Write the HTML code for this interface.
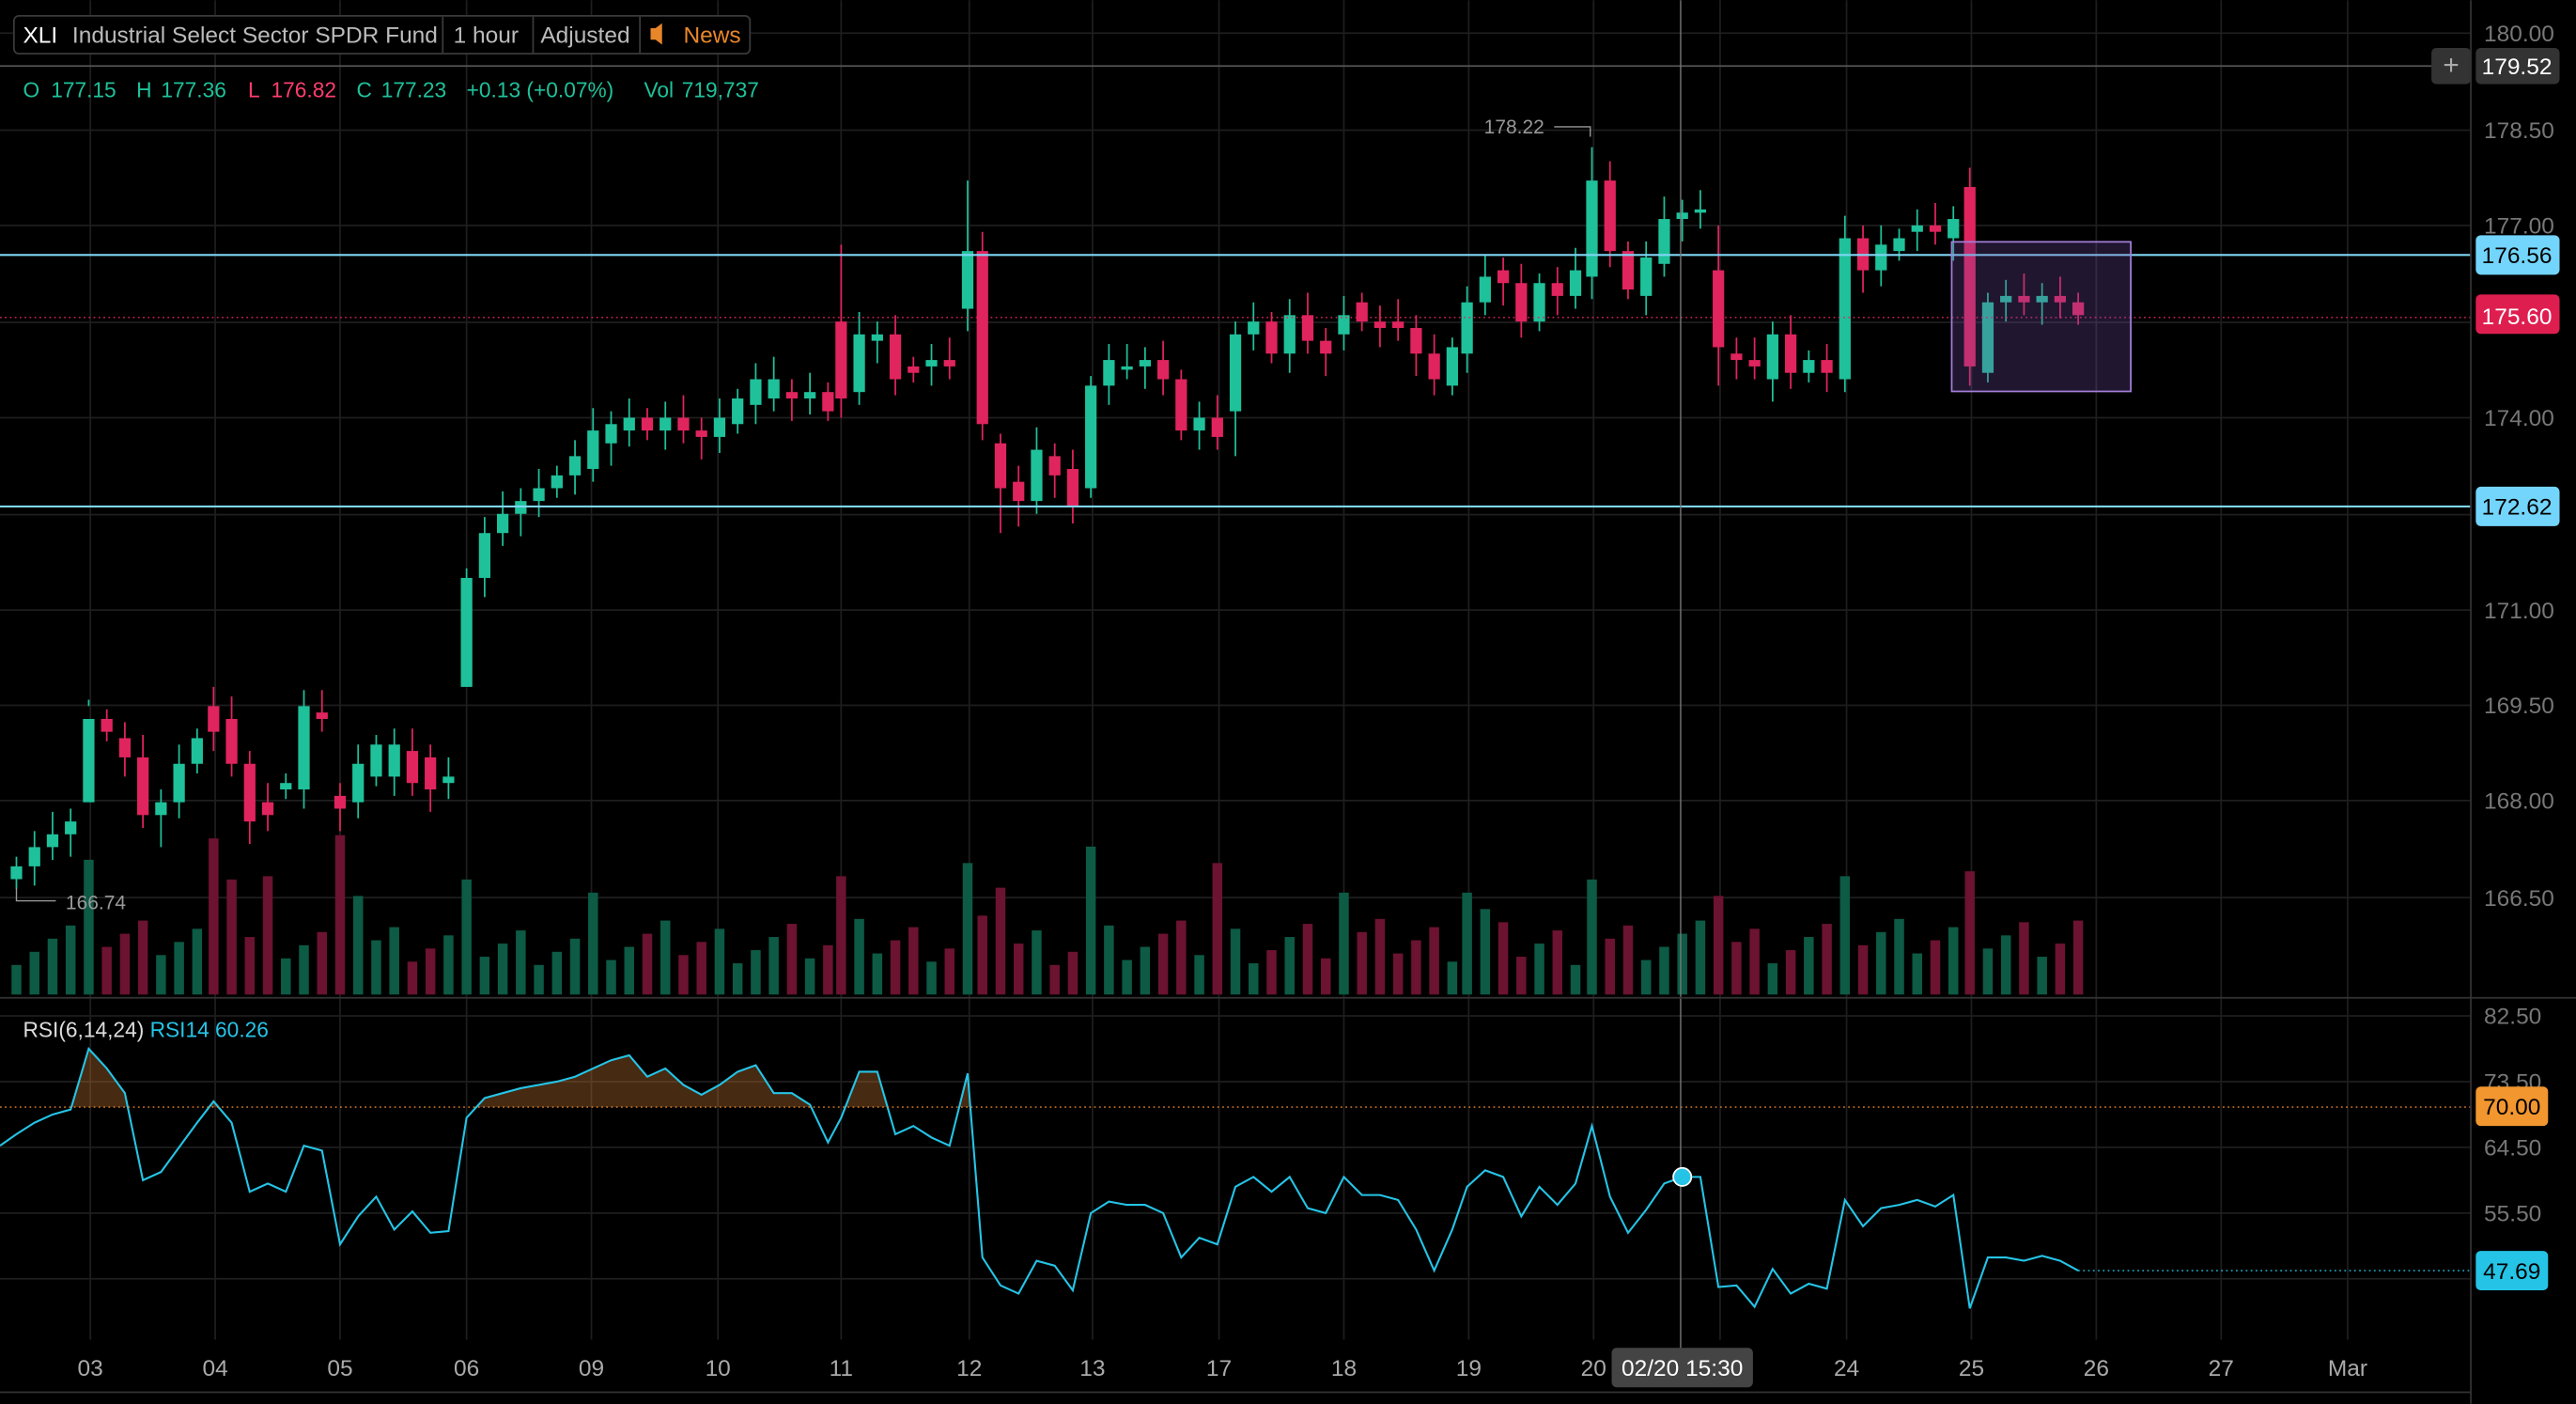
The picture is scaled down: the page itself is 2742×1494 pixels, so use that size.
<!DOCTYPE html>
<html><head><meta charset="utf-8"><style>
html,body{margin:0;padding:0;background:#000;overflow:hidden}
svg{display:block}
text{font-family:"Liberation Sans",sans-serif}
</style></head><body>
<svg id="s" width="2742" height="1494" viewBox="0 0 1568 854" xmlns="http://www.w3.org/2000/svg">
<rect width="1568" height="854" fill="#000"/>
<g id="grid" stroke="#1e1e1e" stroke-width="1"></g>
<g id="vol"></g>
<g id="cand"></g>
<g id="rsi"></g>
<line x1="0" y1="40" x2="1480" y2="40" stroke="#555" stroke-width="1"/>
<line x1="0" y1="155" x2="1504" y2="155" stroke="#7fd6f5" stroke-width="1.2"/>
<line x1="0" y1="308" x2="1504" y2="308" stroke="#7fd6f5" stroke-width="1.2"/>
<line x1="0" y1="193" x2="1504" y2="193" stroke="#e0245e" stroke-width="0.8" stroke-dasharray="1,2"/>
<line x1="0" y1="673.5" x2="1504" y2="673.5" stroke="#e8862a" stroke-width="0.8" stroke-dasharray="1,2"/>
<line x1="1265" y1="773" x2="1504" y2="773" stroke="#25c4e6" stroke-width="0.8" stroke-dasharray="1,2"/>
<rect x="1188" y="147" width="109" height="91" fill="rgba(120,80,170,0.28)" stroke="#a27fd8" stroke-width="1"/>
<line x1="1023" y1="0" x2="1023" y2="820" stroke="#777" stroke-width="0.8"/>
<line x1="1504" y1="0" x2="1504" y2="854" stroke="#333"/>
<line x1="0" y1="607" x2="1568" y2="607" stroke="#333"/>
<line x1="0" y1="847" x2="1504" y2="847" stroke="#333"/>
<polyline points="946,77 968,77 968,83" fill="none" stroke="#999" stroke-width="0.8"/>
<text x="940" y="81" font-size="12" fill="#999" text-anchor="end">178.22</text>
<polyline points="10,540 10,548 34,548" fill="none" stroke="#999" stroke-width="0.8"/>
<text x="40" y="553" font-size="12" fill="#999">166.74</text>
<rect x="8.5" y="9.5" width="448" height="23" rx="3" fill="#000" stroke="#3a3a3a"/>
<line x1="269.5" y1="10" x2="269.5" y2="32" stroke="#3a3a3a"/>
<line x1="324.5" y1="10" x2="324.5" y2="32" stroke="#3a3a3a"/>
<line x1="389.5" y1="10" x2="389.5" y2="32" stroke="#3a3a3a"/>
<text x="14" y="26" font-size="14" fill="#fff">XLI</text>
<text x="44" y="26" font-size="14" fill="#bbb">Industrial Select Sector SPDR Fund</text>
<text x="276" y="26" font-size="14" fill="#bbb">1 hour</text>
<text x="329" y="26" font-size="14" fill="#bbb">Adjusted</text>
<path d="M396 17h3l4-3v13l-4-3h-3z" fill="#e8862a"/>
<text x="416" y="26" font-size="14" fill="#e8862a">News</text>
<g font-size="13" fill="#1fc19a">
<text x="14" y="59">O</text><text x="31" y="59">177.15</text>
<text x="83" y="59">H</text><text x="98" y="59">177.36</text>
<text x="151" y="59" fill="#ff3d6e">L</text><text x="165" y="59" fill="#ff3d6e">176.82</text>
<text x="217" y="59">C</text><text x="232" y="59">177.23</text>
<text x="284" y="59">+0.13 (+0.07%)</text>
<text x="392" y="59">Vol</text><text x="415" y="59">719,737</text>
</g>
<text x="14" y="631" font-size="13" fill="#ddd">RSI(6,14,24) <tspan fill="#25c4e6">RSI14 60.26</tspan></text>
<g font-size="14" fill="#777" text-anchor="start">
<text x="1512" y="25">180.00</text><text x="1512" y="84">178.50</text><text x="1512" y="142">177.00</text>
<text x="1512" y="259">174.00</text><text x="1512" y="376">171.00</text><text x="1512" y="434">169.50</text>
<text x="1512" y="492">168.00</text><text x="1512" y="551">166.50</text>
<text x="1512" y="623">82.50</text><text x="1512" y="663">73.50</text><text x="1512" y="703">64.50</text><text x="1512" y="743">55.50</text>
</g>
<rect x="1480" y="29" width="24" height="22" rx="3" fill="#333"/>
<text x="1492" y="45" font-size="17" fill="#aaa" text-anchor="middle">+</text>
<rect x="1507" y="29" width="51" height="22" rx="3" fill="#333"/><text x="1532" y="45" font-size="14" fill="#fff" text-anchor="middle">179.52</text>
<rect x="1507" y="143" width="51" height="24" rx="3" fill="#73d5fb"/><text x="1532" y="160" font-size="14" fill="#000" text-anchor="middle">176.56</text>
<rect x="1507" y="179" width="51" height="24" rx="3" fill="#df1e50"/><text x="1532" y="197" font-size="14" fill="#fff" text-anchor="middle">175.60</text>
<rect x="1507" y="296" width="51" height="24" rx="3" fill="#73d5fb"/><text x="1532" y="313" font-size="14" fill="#000" text-anchor="middle">172.62</text>
<rect x="1507" y="661" width="44" height="24" rx="3" fill="#f2962f"/><text x="1529" y="678" font-size="14" fill="#000" text-anchor="middle">70.00</text>
<rect x="1507" y="761" width="44" height="24" rx="3" fill="#25c4e6"/><text x="1529" y="778" font-size="14" fill="#000" text-anchor="middle">47.69</text>
<g font-size="14" fill="#aaa" text-anchor="middle">
<text x="55" y="837">03</text><text x="131" y="837">04</text><text x="207" y="837">05</text><text x="284" y="837">06</text>
<text x="360" y="837">09</text><text x="437" y="837">10</text><text x="512" y="837">11</text><text x="590" y="837">12</text>
<text x="665" y="837">13</text><text x="742" y="837">17</text><text x="818" y="837">18</text><text x="894" y="837">19</text>
<text x="970" y="837">20</text><text x="1124" y="837">24</text><text x="1200" y="837">25</text><text x="1276" y="837">26</text>
<text x="1352" y="837">27</text><text x="1429" y="837">Mar</text>
</g>
<rect x="981" y="820" width="86" height="24" rx="3" fill="#444"/>
<text x="1024" y="837" font-size="14" fill="#fff" text-anchor="middle">02/20 15:30</text>
<circle cx="1024" cy="716" r="5.5" fill="#25c4e6" stroke="#fff" stroke-width="1"/>
</svg>
<script>
var NS="http://www.w3.org/2000/svg";
function el(p,t,a){var e=document.createElementNS(NS,t);for(var k in a)e.setAttribute(k,a[k]);document.getElementById(p).appendChild(e);return e;}
var days=[55,131,207,284,360,437,512,590,665,742,818,894,970,1047,1124,1200,1276,1352,1429];
days.forEach(function(x){el("grid","line",{x1:x,y1:0,x2:x,y2:815});});
[20,79,137,196,254,313,371,429,487,546].forEach(function(y){el("grid","line",{x1:0,y1:y,x2:1504,y2:y});});
[618,658,698,738,778].forEach(function(y){el("grid","line",{x1:0,y1:y,x2:1504,y2:y});});
function py(p){return 20+(180-p)*39;}
var C=[[10,166.8,167.0],[21,167.0,167.3],[32,167.3,167.5],[43,167.5,167.7],[54,168.0,169.3],[65,169.3,169.1],[76,169.0,168.7],[87,168.7,167.8],[98,167.8,168.0],[109,168.0,168.6],[120,168.6,169.0],[130,169.5,169.1],[141,169.3,168.6],[152,168.6,167.7],[163,168.0,167.8],[174,168.2,168.3],[185,168.2,169.5],[196,169.4,169.3],[207,168.1,167.9],[218,168.0,168.6],[229,168.4,168.9],[240,168.4,168.9],[251,168.8,168.3],[262,168.7,168.2],[273,168.3,168.4],[284,169.8,171.5],[295,171.5,172.2],[306,172.2,172.5],[317,172.5,172.7],[328,172.7,172.9],[339,172.9,173.1],[350,173.1,173.4],[361,173.2,173.8],[372,173.6,173.9],[383,173.8,174.0],[394,174.0,173.8],[405,173.8,174.0],[416,174.0,173.8],[427,173.8,173.7],[438,173.7,174.0],[449,173.9,174.3],[460,174.2,174.6],[471,174.3,174.6],[482,174.4,174.3],[493,174.3,174.4],[504,174.4,174.1],[512,175.5,174.3],[523,174.4,175.3],[534,175.2,175.3],[545,175.3,174.6],[556,174.8,174.7],[567,174.8,174.9],[578,174.9,174.8],[589,175.7,176.6],[598,176.6,173.9],[609,173.6,172.9],[620,173.0,172.7],[631,172.7,173.5],[642,173.4,173.1],[653,173.2,172.6],[664,172.9,174.5],[675,174.5,174.9],[686,174.8,174.8],[697,174.8,174.9],[708,174.9,174.6],[719,174.6,173.8],[730,173.8,174.0],[741,174.0,173.7],[752,174.1,175.3],[763,175.3,175.5],[774,175.5,175.0],[785,175.0,175.6],[796,175.6,175.2],[807,175.2,175.0],[818,175.3,175.6],[829,175.8,175.5],[840,175.5,175.4],[851,175.5,175.4],[862,175.4,175.0],[873,175.0,174.6],[884,174.5,175.1],[893,175.0,175.8],[904,175.8,176.2],[915,176.3,176.1],[926,176.1,175.5],[937,175.5,176.1],[948,176.1,175.9],[959,175.9,176.3],[969,176.2,177.7],[980,177.7,176.6],[991,176.6,176.0],[1002,175.9,176.5],[1013,176.4,177.1],[1024,177.1,177.2],[1035,177.2,177.25],[1046,176.3,175.1],[1057,175.0,174.9],[1068,174.9,174.8],[1079,174.6,175.3],[1090,175.3,174.7],[1101,174.7,174.9],[1112,174.9,174.7],[1123,174.6,176.8],[1134,176.8,176.3],[1145,176.3,176.7],[1156,176.6,176.8],[1167,176.9,177.0],[1178,177.0,176.9],[1189,176.8,177.1],[1199,177.6,174.8],[1210,174.7,175.8],[1221,175.8,175.9],[1232,175.9,175.8],[1243,175.8,175.9],[1254,175.9,175.8],[1265,175.8,175.6]];
var wick={54:[0,169.5],130:[169.8,0],512:[176.7,0],589:[177.7,0],609:[0,172.2],620:[0,172.3],969:[178.22,0],1046:[177.0,174.5],1123:[0,174.4],1199:[0,174.5],284:[0,169.8],752:[0,173.4],98:[0,167.3]};
var tall={54:82,130:95,141:70,163:72,207:97,218:60,284:70,361:62,512:72,589:80,598:48,609:65,664:90,741:80,818:62,893:62,904:52,969:70,1046:60,1123:72,1199:75,1265:45};
C.forEach(function(c,i){var x=c[0],o=c[1],cl=c[2];var up=cl>=o;
 var col=up?"#1fc19a":"#e0245e";var hi=Math.max(o,cl)+0.15+((i*7)%5)*0.05,lo=Math.min(o,cl)-0.15-((i*3)%5)*0.05;
 if(wick[x]){if(wick[x][0])hi=wick[x][0];if(wick[x][1])lo=wick[x][1];}
 el("cand","line",{x1:x,y1:py(hi),x2:x,y2:py(lo),stroke:col,"stroke-width":1});
 var t=py(Math.max(o,cl)),b=py(Math.min(o,cl));if(b-t<2){b=t+2;}
 el("cand","rect",{x:x-3.5,y:t,width:7,height:b-t,fill:col});
 var h=tall[x]||(18+((i*37)%29));
 el("vol","rect",{x:x-3,y:605-h,width:6,height:h,fill:up?"#0d5a45":"#6b1330"});
});
var R=[[0,697],[10,690],[21,683],[32,678],[43,675],[54,638],[65,650],[76,665],[87,718],[98,713],[109,698],[120,683],[130,670],[141,683],[152,725],[163,720],[174,725],[185,697],[196,700],[207,757],[218,740],[229,728],[240,748],[251,737],[262,750],[273,749],[284,680],[295,668],[306,665],[317,662],[328,660],[339,658],[350,655],[361,650],[372,645],[383,642],[394,655],[405,650],[416,660],[427,666],[438,660],[449,652],[460,648],[471,665],[482,665],[493,672],[504,695],[512,680],[523,652],[534,652],[545,690],[556,685],[567,692],[578,697],[589,653],[598,765],[609,782],[620,787],[631,767],[642,770],[653,785],[664,738],[675,731],[686,733],[697,733],[708,738],[719,765],[730,753],[741,757],[752,722],[763,716],[774,725],[785,716],[796,735],[807,738],[818,716],[829,727],[840,727],[851,730],[862,748],[873,773],[884,748],[893,722],[904,712],[915,716],[926,740],[937,722],[948,733],[959,720],[969,685],[980,728],[991,750],[1002,736],[1013,720],[1024,716],[1035,716],[1046,783],[1057,782],[1068,795],[1079,772],[1090,787],[1101,781],[1112,784],[1123,730],[1134,746],[1145,735],[1156,733],[1167,730],[1178,734],[1189,727],[1199,796],[1210,765],[1221,765],[1232,767],[1243,764],[1254,767],[1265,773]];
var L=673.5;
var d="";for(var i=0;i<R.length-1;i++){var a=R[i],b=R[i+1];var ya=Math.min(a[1],L),yb=Math.min(b[1],L);
 if(a[1]<L||b[1]<L){var x0=a[0],x1=b[0];
  if(a[1]>=L){x0=a[0]+(b[0]-a[0])*(a[1]-L)/(a[1]-b[1]);ya=L;}
  if(b[1]>=L){x1=a[0]+(b[0]-a[0])*(a[1]-L)/(a[1]-b[1]);yb=L;}
  d+="M"+x0+" "+L+"L"+x0+" "+ya+"L"+x1+" "+yb+"L"+x1+" "+L+"Z";}}
el("rsi","path",{d:d,fill:"rgba(200,120,50,0.35)"});
el("rsi","polyline",{points:R.map(function(p){return p.join(",");}).join(" "),fill:"none",stroke:"#25c4e6","stroke-width":1.2});
</script>
</body></html>
